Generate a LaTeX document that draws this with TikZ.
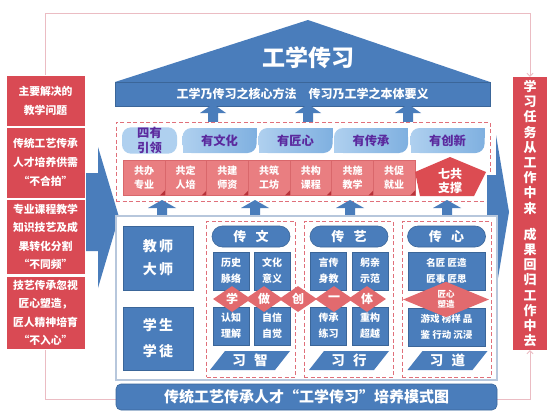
\documentclass[tikz,border=0pt]{standalone}
\usepackage{fontspec}
\setmainfont{Noto Sans CJK SC}
\usetikzlibrary{shapes.geometric,arrows.meta,backgrounds}

\definecolor{gxblue}{HTML}{4A7DBB}
\definecolor{gxblueline}{HTML}{3B6699}
\definecolor{gxred}{HTML}{D94A54}
\definecolor{gxcell}{HTML}{E97E81}
\definecolor{gxcellline}{HTML}{D9676B}
\definecolor{gxfold}{HTML}{B8323A}
\definecolor{gxstar}{HTML}{DC4C52}
\definecolor{gxdia}{HTML}{E26A6E}
\definecolor{gxtab}{HTML}{7FB0E0}
\definecolor{gxtabl}{HTML}{AFD0EF}
\definecolor{gxpurple}{HTML}{5B2A9E}
\definecolor{gxdash}{HTML}{E0707A}
\definecolor{gxlink}{HTML}{EBBCC3}
\definecolor{gxframe}{HTML}{B7C7DC}

\newcommand\fsz[2]{\fontsize{#1}{#2}\selectfont\bfseries}

\tikzset{
	problem/.style={fill=gxred, text=white, draw=white, line width=1pt, minimum width=79pt, font=\fsz{10.8}{19}},
	goal/.style={fill=gxred, text=white, minimum width=34pt, minimum height=273pt, font=\fsz{13}{15.2}},
	bluebox/.style={fill=gxblue, draw=gxblueline, line width=0.6pt, text=white},
	pill/.style={bluebox, rounded corners=10.5pt, minimum width=78pt, minimum height=21pt, font=\fsz{13}{15}},
	cell/.style={bluebox, minimum width=36pt, minimum height=38pt, font=\fsz{10}{16}},
	pillar/.style={fill=gxcell, draw=gxcellline, line width=0.5pt, text=white, minimum width=41.7pt, minimum height=35pt, font=\fsz{10}{14}},
	joinmark/.style={diamond, fill=gxdia, text=white, minimum width=38pt, minimum height=26pt, font=\fsz{12}{14}},
	tab/.style={text=gxpurple, rounded corners=9pt, minimum height=25pt, font=\fsz{12.3}{14.5}},
	link/.style={draw=gxlink, line width=0.8pt},
	dashframe/.style={draw=gxdash, dash pattern=on 4pt off 2.5pt, line width=0.9pt}
}

\begin{document}
\begin{tikzpicture}[x=1pt, y=-1pt, every node/.style={inner sep=0pt, align=center}]
\useasboundingbox (0,0) rectangle (556,417);

\node [problem, minimum height=50pt] (q0) at (45.5,101) {主要解决的\\教学问题};
\node [problem, minimum height=71pt] (q1) at (45.5,162.5) {传统工艺传承\\人才培养供需\\“不合拍”};
\node [problem, minimum height=75pt, font=\fsz{10.8}{18.5}] (q2) at (45.5,237) {专业课程教学\\知识技艺及成\\果转化分割\\“不同频”};
\node [problem, minimum height=73pt, font=\fsz{10.8}{18.5}] (q3) at (45.5,313) {技艺传承忽视\\匠心塑造，\\匠人精神培育\\“不入心”};
\node [goal] (goal) at (530,213.5) {学\\习\\任\\务\\从\\工\\作\\中\\来\\[11pt]成\\果\\回\\归\\工\\作\\中\\去};

\begin{scope}[on background layer]
\fill [white] (0,0) rectangle (556,417);
\draw [link, -{Straight Barb[length=3pt, width=6pt]}] (q0.north) |- ([yshift=63pt]goal.north) -- (goal.north);
\draw [link, -{Straight Barb[length=3pt, width=6pt]}] (q3.south) |- ([yshift=-49pt]goal.south) -- (goal.south);
\fill [gxblue] (85,173) -- (98,173) -- (98,147) -- (119,217) -- (98,288) -- (98,251) -- (85,251) -- cycle;
\end{scope}

\fill [gxblue] (115,82) -- (308,20) -- (490,82) -- cycle;
\node [fill=gxblue, draw=gxblueline, line width=0.5pt, minimum width=375pt, minimum height=24pt, text=white, font=\fsz{12}{14}] (band) at (302.5,94) {工学乃传习之核心方法\quad 传习乃工学之本体要义};
\node [text=white, font=\fsz{23}{25}] (title) at (308,58) {工学传习};

\foreach \x in {213,308,408}
	\fill [gxblue] (\x-5,122) -- (\x-5,113) -- (\x-13,113) -- (\x,104) -- (\x+13,113) -- (\x+5,113) -- (\x+5,122) -- cycle;

\node [dashframe, fill=white, minimum width=374pt, minimum height=79pt] (frame) at (303,161.5) {};

\node [tab, fill=gxtabl, minimum width=55pt] (lead) at (149.5,140.5) {四有\\引领};
\foreach \t/\x [count=\i] in {有文化/219.5,有匠心/295.5,有传承/371,有创新/447.5} {
	\fill [gxtab] (\x+27,128) rectangle (\x+37,138);
	\fill [gxtabl] (\x-37,143) rectangle (\x-27,153);
	\node [tab, left color=gxtabl, right color=gxtab, minimum width=74pt] (t\i) at (\x,140.5) {\t};
}

\foreach \t [count=\i from 0] in {共办\\专业,共定\\人培,共建\\师资,共筑\\工坊,共构\\课程,共施\\教学,共促\\就业} {
	\node [pillar] (p\i) at (144+41.7*\i,177.5) {\t};
	\fill [gxfold] (p\i.south east) -- ++(-5,0) -- ++(5,-5) -- cycle;
}
\fill [gxstar] (415,172) -- (450,157) -- (486,172) -- (474,196) -- (420,196) -- cycle;
\node [text=white, font=\fsz{12}{14}] (seven) at (450,181) {七共\\支撑};

\fill [gxblue] (487,175) -- (496,175) -- (496,135) -- (509,212) -- (496,290) -- (496,250) -- (487,250) -- cycle;

\foreach \x in {162,255,350,447}
	\fill [gxblue] (\x-5,217) -- (\x-5,208) -- (\x-14,208) -- (\x,200) -- (\x+14,208) -- (\x+5,208) -- (\x+5,217) -- cycle;

\node [draw=gxframe, fill=white, line width=1.2pt, minimum width=381pt, minimum height=164pt] (stage) at (306.5,298) {};

\node [bluebox, minimum width=70pt, minimum height=64pt, font=\fsz{14}{23}] (teacher) at (158,258) {教\,师\\大\,师};
\node [bluebox, minimum width=70pt, minimum height=63pt, font=\fsz{14}{26}] (student) at (158,338.5) {学\,生\\学\,徒};

\foreach \x/\n in {251/1,348.5/2,446.5/3}
	\node [dashframe, minimum width=89pt, minimum height=156pt] (col\n) at (\x,299) {};

\foreach \t/\x [count=\i] in {传\hspace{0.7em}文/251,传\hspace{0.7em}艺/349,传\hspace{0.7em}心/446.5}
	\node [pill] (h\i) at (\x,236.5) {\t};

\foreach \t/\x/\y/\n in {历史\\脉络/231/271/a1, 文化\\意义/272/271/b1, 认知\\理解/231/326/c1, 自信\\自觉/272/326/d1, 言传\\身教/328.5/271/a2, 躬亲\\示范/370/271/b2, 传承\\练习/328.5/326/c2, 重构\\超越/370/326/d2}
	\node [cell] (\n) at (\x,\y) {\t};
\node [cell, minimum width=77pt, font=\fsz{9.5}{16}] (a3) at (446.5,271) {名匠 匠造\\匠事 匠思};
\node [cell, minimum width=77pt, font=\fsz{9.5}{16}] (c3) at (446.5,327) {游戏 榜样 品\\鉴 行动 沉浸};

\foreach \t/\x [count=\i] in {学/232,做/264,创/298,一/334,体/367}
	\node [joinmark] (j\i) at (\x,299) {\t};
\node [joinmark, minimum width=86pt, minimum height=25pt, font=\fsz{8.5}{10.5}] (j6) at (446,299.5) {匠心\\塑造};

\foreach \t/\x [count=\i] in {习\hspace{0.6em}智/250,习\hspace{0.6em}行/349,习\hspace{0.6em}道/447.5} {
	\fill [gxblue] (\x-40,370) -- (\x-25,351) -- (\x+40,351) -- (\x+25,370) -- cycle;
	\node [text=white, font=\fsz{13.5}{15}] (s\i) at (\x,360.5) {\t};
}

\node [bluebox, rounded corners=5pt, minimum width=381pt, minimum height=26pt, font=\fsz{15}{17}] (banner) at (306.5,397) {传统工艺传承人才“工学传习”培养模式图};
\end{tikzpicture}
\end{document}
